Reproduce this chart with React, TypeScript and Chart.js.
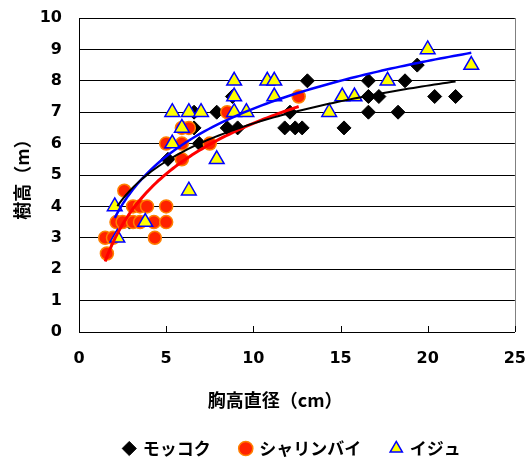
import { useEffect, useRef } from "react";
import { Chart, registerables } from "chart.js";

Chart.register(...registerables);

const seriesNames = ["モッコク", "シャリンバイ", "イジュ"];

const mokkokuX = [2.2, 2.9, 5.1, 6.6, 6.9, 6.6, 7.9, 8.5, 9.1, 8.8, 12.1, 11.8, 12.4, 12.8, 13.1, 16.6, 18.7, 19.4, 16.6, 17.2, 20.4, 21.6, 16.6, 18.3, 15.2];
const mokkokuY = [3.5, 3.5, 5.5, 6.5, 6.0, 7.0, 7.0, 6.5, 6.5, 7.5, 7.0, 6.5, 6.5, 6.5, 8.0, 8.0, 8.0, 8.5, 7.5, 7.5, 7.5, 7.5, 7.0, 7.0, 6.5];

const sharinbaiX = [1.6, 1.5, 1.95, 4.35, 2.15, 2.5, 3.1, 3.5, 4.3, 5.0, 3.1, 3.5, 3.9, 5.0, 2.6, 5.0, 5.9, 6.3, 5.9, 5.9, 7.5, 8.5, 12.6];
const sharinbaiY = [2.5, 3.0, 3.0, 3.0, 3.5, 3.5, 3.5, 3.5, 3.5, 3.5, 4.0, 4.0, 4.0, 4.0, 4.5, 6.0, 6.5, 6.5, 6.0, 5.5, 6.0, 7.0, 7.5];

const ijuX = [2.05, 2.2, 3.8, 5.35, 6.3, 7.0, 5.9, 5.35, 7.9, 6.3, 8.9, 8.9, 8.9, 9.6, 10.8, 11.2, 11.2, 14.35, 15.1, 15.8, 17.7, 20.0, 22.5];
const ijuY = [4.0, 3.0, 3.5, 7.0, 7.0, 7.0, 6.5, 6.0, 5.5, 4.5, 8.0, 7.5, 7.0, 7.0, 8.0, 8.0, 7.5, 7.0, 7.5, 7.5, 8.0, 9.0, 8.5];

const xTicks = [0, 5, 10, 15, 20, 25];
const yTicks = [0, 1, 2, 3, 4, 5, 6, 7, 8, 9, 10];
const xTitle = "胸高直径（cm）";
const yTitle = "樹高（m）";

const JP = '"Noto Sans CJK JP", "Noto Sans", sans-serif';
const NUM = '"DejaVu Sans", sans-serif';

function toPoints(xs: number[], ys: number[]) {
  return xs.map((x, i) => ({ x, y: ys[i] }));
}

// Logarithmic least-squares trendline (y = a ln x + b), like the spreadsheet's
function logTrend(xs: number[], ys: number[], steps = 80) {
  const n = xs.length;
  const ls = xs.map((x) => Math.log(x));
  const ml = ls.reduce((s, v) => s + v, 0) / n;
  const my = ys.reduce((s, v) => s + v, 0) / n;
  let sxy = 0;
  let sxx = 0;
  for (let i = 0; i < n; i++) {
    sxy += (ls[i] - ml) * (ys[i] - my);
    sxx += (ls[i] - ml) * (ls[i] - ml);
  }
  const a = sxy / sxx;
  const b = my - a * ml;
  const lo = Math.min(...xs);
  const hi = Math.max(...xs);
  const pts = [];
  for (let i = 0; i <= steps; i++) {
    const x = lo + ((hi - lo) * i) / steps;
    pts.push({ x, y: a * Math.log(x) + b });
  }
  return pts;
}

const decorPlugin = {
  id: "decor",
  beforeLayout(chart: any) {
    const lg = chart.legend;
    if (lg && !lg.__patched) {
      const orig = lg.fit.bind(lg);
      lg.fit = function () {
        orig();
        this.height = 49;
      };
      lg.__patched = true;
    }
  },
  afterLayout(chart: any) {
    const lg = chart.legend;
    if (lg) {
      lg.left += 35;
      lg.right += 35;
    }
  },
  beforeDatasetsDraw(chart: any) {
    const { ctx, chartArea } = chart;
    ctx.save();
    ctx.strokeStyle = "#808080";
    ctx.lineWidth = 1;
    ctx.beginPath();
    ctx.moveTo(Math.round(chartArea.right) + 0.5, chartArea.top);
    ctx.lineTo(Math.round(chartArea.right) + 0.5, chartArea.bottom);
    ctx.stroke();
    ctx.strokeStyle = "#000";
    for (const v of xTicks) {
      const px = Math.round(chart.scales.x.getPixelForValue(v)) + 0.5;
      ctx.beginPath();
      ctx.moveTo(px, chartArea.bottom - 6);
      ctx.lineTo(px, chartArea.bottom);
      ctx.stroke();
    }
    ctx.restore();
  },
  afterDraw(chart: any) {
    const { ctx, chartArea } = chart;
    ctx.save();
    ctx.fillStyle = "#000";
    ctx.font = `bold 18px ${JP}`;
    ctx.textAlign = "center";
    ctx.textBaseline = "middle";
    ctx.fillText(xTitle, chartArea.left + (chartArea.right - chartArea.left) * 0.45, 400);
    ctx.translate(22, (chartArea.top + chartArea.bottom) / 2);
    ctx.rotate(-Math.PI / 2);
    ctx.fillText(yTitle, 0, 0);
    ctx.restore();
  },
};

export default function App() {
  const ref = useRef<HTMLCanvasElement>(null);
  useEffect(() => {
    if (!ref.current) return;
    const chart = new Chart(ref.current, {
      type: "scatter",
      data: {
        datasets: [
          {
            label: seriesNames[0],
            data: toPoints(mokkokuX, mokkokuY),
            pointStyle: "rectRot",
            pointRadius: 7,
            backgroundColor: "#000000",
            borderColor: "#000000",
            borderWidth: 1,
            order: 3,
          },
          {
            label: seriesNames[1],
            data: toPoints(sharinbaiX, sharinbaiY),
            pointStyle: "circle",
            pointRadius: 6.5,
            backgroundColor: "#FF2200",
            borderColor: "#FF8000",
            borderWidth: 1.5,
            order: 2,
          },
          {
            label: seriesNames[2],
            data: toPoints(ijuX, ijuY),
            pointStyle: "triangle",
            pointRadius: 8.5,
            backgroundColor: "#FFFF00",
            borderColor: "#0000FF",
            borderWidth: 1.5,
            order: 1,
          },
          {
            label: "trend-mokkoku",
            data: logTrend(mokkokuX, mokkokuY),
            showLine: true,
            pointRadius: 0,
            borderColor: "#000000",
            borderWidth: 2,
            order: 0,
          },
          {
            label: "trend-sharinbai",
            data: logTrend(sharinbaiX, sharinbaiY),
            showLine: true,
            pointRadius: 0,
            borderColor: "#FF0000",
            borderWidth: 3,
            order: 0,
          },
          {
            label: "trend-iju",
            data: logTrend(ijuX, ijuY),
            showLine: true,
            pointRadius: 0,
            borderColor: "#0000FF",
            borderWidth: 2.5,
            order: 0,
          },
        ] as any,
      },
      options: {
        responsive: false,
        animation: false,
        layout: { padding: { left: 0, right: 11, top: 18, bottom: 0 } },
        scales: {
          x: {
            type: "linear",
            min: 0,
            max: 25,
            afterBuildTicks: (s: any) => {
              s.ticks = xTicks.map((v) => ({ value: v }));
            },
            afterFit: (s: any) => {
              s.height = 78;
            },
            ticks: {
              padding: 0,
              maxRotation: 0,
              color: "#000",
              font: { family: NUM, size: 16, weight: "bold" },
            },
            grid: {
              display: true,
              drawOnChartArea: false,
              drawTicks: true,
              tickLength: 17,
              tickColor: "rgba(0,0,0,0)",
            },
            border: { display: true, color: "#000", width: 1 },
          },
          y: {
            type: "linear",
            min: 0,
            max: 10,
            afterBuildTicks: (s: any) => {
              s.ticks = yTicks.map((v) => ({ value: v }));
            },
            afterFit: (s: any) => {
              s.width = 79;
            },
            ticks: {
              padding: 0,
              color: "#000",
              font: { family: NUM, size: 16, weight: "bold" },
            },
            grid: {
              color: "#000",
              lineWidth: 1,
              drawTicks: true,
              tickLength: 17,
              tickColor: "rgba(0,0,0,0)",
            },
            border: { display: true, color: "#000", width: 1 },
          },
        },
        plugins: {
          legend: {
            position: "bottom",
            labels: {
              usePointStyle: true,
              boxWidth: 10,
              boxHeight: 10,
              padding: 30,
              color: "#000",
              font: { family: JP, size: 17, weight: "bold" },
              filter: (item: any) => item.datasetIndex < 3,
              sort: (a: any, b: any) => a.datasetIndex - b.datasetIndex,
            },
          },
          tooltip: { enabled: false },
        },
      } as any,
      plugins: [decorPlugin],
    });
    return () => chart.destroy();
  }, []);
  return (
    <div style={{ position: "fixed", left: 0, top: 0, width: 526, height: 459, background: "#fff" }}>
      <canvas ref={ref} width={526} height={459} style={{ display: "block" }} />
    </div>
  );
}
